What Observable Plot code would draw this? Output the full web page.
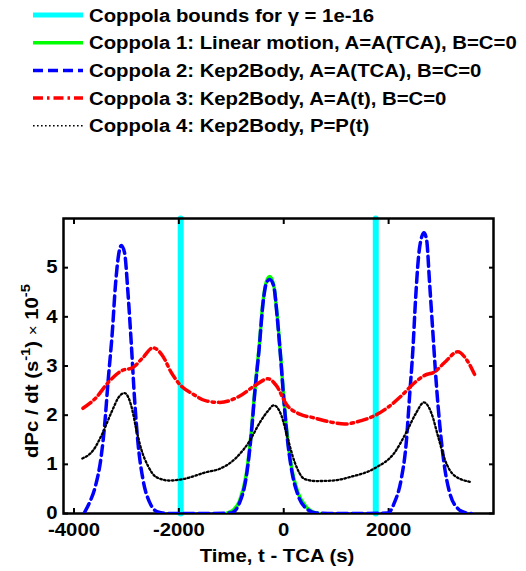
<!DOCTYPE html>
<html>
<head>
<meta charset="utf-8">
<script src="https://cdn.jsdelivr.net/npm/d3@7"></script>
<script src="https://cdn.jsdelivr.net/npm/@observablehq/plot@0.6"></script>
<style>
  body { margin: 0; background: #fff; }
  #chart { width: 526px; height: 571px; position: relative; background: #fff; }
  svg { display: block; }
</style>
</head>
<body>
<div id="chart"></div>
<script>
// ---- data ----
const boundsT = [-1965, 1755];

const c1T = [-1100, -950, -838, -711, -616, -552, -470, -394, -330, -267, -190, -127, -57, 0, 63, 146, 273, 432, 560, 680];
const c1V = [0, 0.08, 0.27, 0.82, 1.70, 2.50, 3.38, 4.32, 4.72, 4.82, 4.64, 4.05, 3.17, 2.37, 1.62, 0.95, 0.42, 0.13, 0.03, 0];

const c2T = [-3800, -3701, -3606, -3479, -3416, -3352, -3270, -3206, -3143, -3098, -3035, -2971, -2908, -2845, -2781, -2686, -2559, -2400, -2200, -1800, -1400, -1000, -838, -711, -616, -552, -470, -394, -330, -267, -190, -127, -57, 0, 63, 146, 273, 432, 622, 1000, 1500, 1987, 2114, 2241, 2337, 2400, 2463, 2514, 2571, 2635, 2673, 2724, 2781, 2844, 2908, 2971, 3054, 3162, 3321, 3450, 3575];
const c2V = [0.02, 0.23, 0.5, 1.18, 1.79, 2.66, 3.68, 4.69, 5.30, 5.45, 5.30, 4.49, 3.47, 2.33, 1.45, 0.70, 0.23, 0.03, 0, 0, 0, 0.01, 0.23, 0.77, 1.65, 2.46, 3.34, 4.29, 4.69, 4.76, 4.62, 4.02, 3.14, 2.33, 1.58, 0.91, 0.37, 0.1, 0.01, 0, 0, 0.01, 0.23, 0.70, 1.45, 2.39, 3.34, 4.36, 5.23, 5.64, 5.71, 5.57, 4.69, 3.68, 2.66, 1.85, 1.04, 0.43, 0.1, 0.02, 0];

const c3T = [-3829, -3575, -3352, -3098, -2876, -2686, -2495, -2305, -2146, -1987, -1733, -1479, -1219, -838, -552, -298, -140, 51, 305, 559, 940, 1162, 1480, 1733, 1987, 2241, 2495, 2686, 2876, 3067, 3321, 3479, 3638];
const c3V = [2.14, 2.36, 2.66, 2.90, 2.97, 3.17, 3.37, 3.20, 2.87, 2.63, 2.43, 2.29, 2.26, 2.39, 2.60, 2.74, 2.60, 2.22, 2.02, 1.95, 1.85, 1.82, 1.89, 1.99, 2.16, 2.39, 2.66, 2.81, 2.88, 3.07, 3.29, 3.14, 2.83];

const c4T = [-3841, -3638, -3448, -3289, -3130, -3035, -2908, -2813, -2718, -2590, -2432, -2178, -1924, -1479, -1219, -901, -648, -457, -298, -190, -44, 63, 210, 400, 622, 940, 1257, 1733, 2114, 2337, 2527, 2673, 2813, 2940, 3067, 3257, 3575];
const c4V = [1.12, 1.28, 1.65, 2.05, 2.39, 2.45, 2.19, 1.72, 1.31, 0.97, 0.74, 0.67, 0.70, 0.84, 0.91, 1.14, 1.48, 1.85, 2.09, 2.20, 1.99, 1.58, 1.04, 0.70, 0.66, 0.67, 0.74, 0.92, 1.24, 1.65, 2.05, 2.26, 2.05, 1.58, 1.11, 0.77, 0.64];

const xTicks = [-4000, -2000, 0, 2000];
const yTicks = [0, 1, 2, 3, 4, 5];

const legendLabels = [
  "Coppola bounds for \u03B3 = 1e-16",
  "Coppola 1: Linear motion, A=A(TCA), B=C=0",
  "Coppola 2: Kep2Body, A=A(TCA), B=C=0",
  "Coppola 3: Kep2Body, A=A(t), B=C=0",
  "Coppola 4: Kep2Body, P=P(t)"
];
const styles = [
  {stroke: "#00FFFF", width: 6, dash: null},
  {stroke: "#00FF00", width: 3.5, dash: null},
  {stroke: "#0000FF", width: 3.5, dash: "10,5"},
  {stroke: "#FF0000", width: 3.5, dash: "10,4,2.5,4"},
  {stroke: "#000000", width: 2.3, dash: "1.6,2.4"}
];

const zip = (T, V) => T.map((t, i) => ({t, v: V[i]}));
const c1 = zip(c1T, c1V), c2 = zip(c2T, c2V), c3 = zip(c3T, c3V), c4 = zip(c4T, c4V);
const bounds = boundsT.flatMap(t => [{t, v: 0, id: t}, {t, v: 6, id: t}]);

const FONT = "'Liberation Sans', Arial, Helvetica, sans-serif";
const SX = 1.13; // horizontal stretch of the reference's Helvetica rendering
const chart = d3.select("#chart");

// ---- legend ----
const leg = chart.append("svg").attr("width", 526).attr("height", 190)
  .style("font-family", FONT).style("font-weight", "bold").style("font-size", "18px");
legendLabels.forEach((lab, i) => {
  const cy = 15 + i * 27.7;
  const s = styles[i];
  leg.append("line").attr("x1", 33).attr("x2", 83).attr("y1", cy).attr("y2", cy)
    .attr("stroke", s.stroke).attr("stroke-width", i === 0 ? 5 : (i === 4 ? 1.6 : s.width))
    .attr("stroke-dasharray", s.dash);
  leg.append("text").attr("transform", `translate(89,${cy + 6.5}) scale(${SX},1)`)
    .attr("fill", "#000").text(lab);
});

// ---- plot ----
const line = (data, s) => Plot.line(data, {x: "t", y: "v", stroke: s.stroke, strokeWidth: s.width,
  strokeDasharray: s.dash, curve: "monotone-x", clip: true});

const svg = Plot.plot({
  width: 526, height: 381,
  marginTop: 28, marginBottom: 58, marginLeft: 63, marginRight: 33,
  style: {fontFamily: FONT, fontSize: "18px", fontWeight: "bold", background: "transparent", overflow: "visible"},
  x: {domain: [-4200, 4000], label: null},
  y: {domain: [0, 6], label: null},
  marks: [
    Plot.line(bounds, {x: "t", y: "v", z: "id", stroke: styles[0].stroke, strokeWidth: styles[0].width}),
    Plot.frame({stroke: "#000", strokeWidth: 2.5}),
    Plot.axisX({anchor: "bottom", ticks: xTicks, tickSize: -5, strokeWidth: 2, tickFormat: () => ""}),
    Plot.axisX({anchor: "top", ticks: xTicks, tickSize: -5, strokeWidth: 2, tickFormat: () => ""}),
    Plot.axisY({anchor: "left", ticks: yTicks, tickSize: -5, strokeWidth: 2, tickFormat: () => ""}),
    Plot.axisY({anchor: "right", ticks: yTicks, tickSize: -5, strokeWidth: 2, tickFormat: () => ""}),
    line(c1, styles[1]),
    line(c2, styles[2]),
    line(c3, styles[3]),
    line(c4, styles[4]),
    Plot.axisX({anchor: "bottom", ticks: xTicks, tickSize: 0, tickPadding: 10, tickFormat: d => String(d), fill: "#000"}),
    Plot.axisY({anchor: "left", ticks: yTicks, tickSize: 0, tickPadding: 6, tickFormat: d => String(d), fill: "#000"})
  ]
});
chart.node().appendChild(svg);

const s = d3.select(svg);
// stretch tick labels horizontally like the reference
s.selectAll('g[aria-label="x-axis tick label"] text, g[aria-label="y-axis tick label"] text')
  .each(function () {
    const tr = this.getAttribute("transform") || "";
    this.setAttribute("transform", `${tr} scale(${SX},1)`);
  });

s.append("text").attr("transform", `translate(277,372) scale(${SX},1)`).attr("text-anchor", "middle")
  .attr("fill", "#000").text("Time, t - TCA (s)");
const yl = s.append("text").attr("transform", `translate(38,181) rotate(-90) scale(${SX},1)`)
  .attr("text-anchor", "middle").attr("fill", "#000").style("font-size", "18px");
yl.append("tspan").text("dPc / dt (s");
yl.append("tspan").attr("dy", -8).attr("font-size", 13).text("-1");
yl.append("tspan").attr("dy", 8).text(") ");
yl.append("tspan").attr("font-weight", "normal").attr("font-size", 15).text("\u00D7");
yl.append("tspan").text(" 10");
yl.append("tspan").attr("dy", -8).attr("font-size", 13).text("-5");
</script>
</body>
</html>
